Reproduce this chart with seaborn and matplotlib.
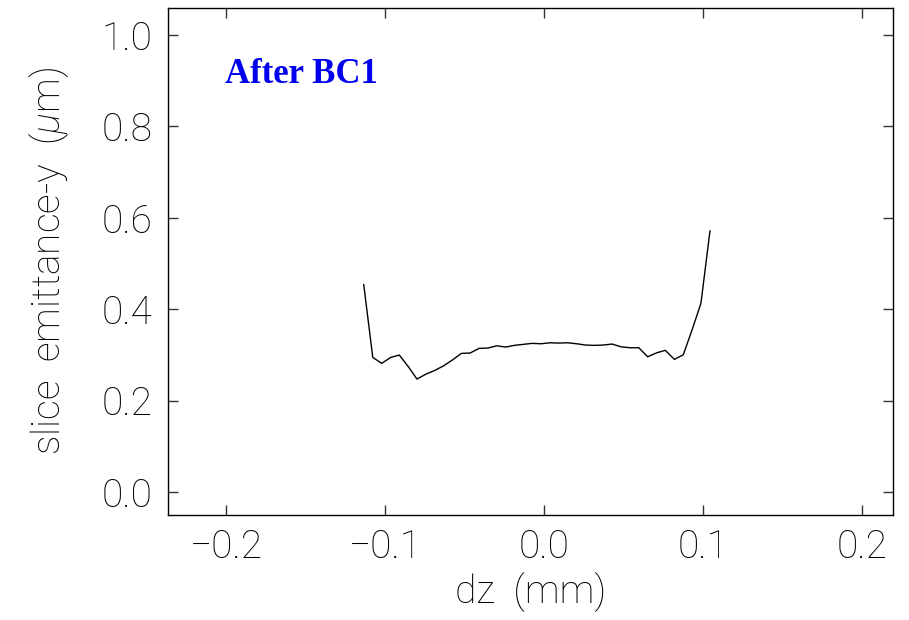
import matplotlib
matplotlib.use("Agg")
import matplotlib.pyplot as plt
import seaborn as sns
import pandas as pd

# slice vertical emittance along the bunch after the first bunch compressor
dz_mm = [-0.1134, -0.1077, -0.1021, -0.0964, -0.0910, -0.0853, -0.0799, -0.0742,
         -0.0686, -0.0631, -0.0574, -0.0520, -0.0465, -0.0409, -0.0354, -0.0297,
         -0.0241, -0.0187, -0.0130, -0.0075, -0.0019, 0.0038, 0.0092, 0.0149,
         0.0206, 0.0262, 0.0316, 0.0373, 0.0428, 0.0484, 0.0541, 0.0596,
         0.0652, 0.0709, 0.0763, 0.0820, 0.0876, 0.0933, 0.0987, 0.1044]
emit_y_um = [0.4545, 0.2947, 0.2816, 0.2947, 0.2998, 0.2742, 0.2473, 0.2582,
             0.2663, 0.2764, 0.2895, 0.3035, 0.3042, 0.3144, 0.3151, 0.3201,
             0.3173, 0.3210, 0.3232, 0.3254, 0.3245, 0.3267, 0.3260, 0.3267,
             0.3245, 0.3217, 0.3210, 0.3217, 0.3239, 0.3179, 0.3158, 0.3158,
             0.2961, 0.3048, 0.3101, 0.2904, 0.3004, 0.3567, 0.4129, 0.5718]

x_ticks = [-0.2, -0.1, 0.0, 0.1, 0.2]
x_tick_labels = ["\u22120.2", "\u22120.1", "0.0", "0.1", "0.2"]
y_ticks = [0.0, 0.2, 0.4, 0.6, 0.8, 1.0]
y_tick_labels = ["0.0", "0.2", "0.4", "0.6", "0.8", "1.0"]

df = pd.DataFrame({"dz": dz_mm, "emit": emit_y_um})

sns.set_style("ticks")
plt.rcParams["font.family"] = ["Roboto", "DejaVu Sans"]
plt.rcParams["mathtext.fontset"] = "custom"
plt.rcParams["mathtext.rm"] = "Roboto:light"
plt.rcParams["mathtext.it"] = "Roboto:italic:light"

fig = plt.figure(figsize=(9.09, 6.20), dpi=100)
ax = fig.add_axes([0.1848, 0.1694, 0.7976, 0.8177])

sns.lineplot(data=df, x="dz", y="emit", ax=ax, color="black", linewidth=1.0,
             sort=False, estimator=None)

ax.set_xlim(-0.2365, 0.2195)
ax.set_ylim(-0.050, 1.059)
ax.set_xticks(x_ticks)
ax.set_xticklabels(x_tick_labels)
ax.set_yticks(y_ticks)
ax.set_yticklabels(y_tick_labels)
ax.minorticks_off()

label_font = dict(fontsize=28, fontweight="light", color="black")
for lab in ax.get_xticklabels() + ax.get_yticklabels():
    lab.set_fontsize(28)
    lab.set_fontweight("light")
    lab.set_color("black")

ax.tick_params(axis="both", which="major", direction="in", length=7, width=1.0,
               color="#333333", top=True, right=True, pad=10)
ax.tick_params(axis="y", pad=11)

for side in ["left", "right", "top", "bottom"]:
    ax.spines[side].set_visible(True)
    ax.spines[side].set_linewidth(1.0)
    ax.spines[side].set_color("black")

ax.set_xlabel("dz  (mm)", **label_font, labelpad=4)
ax.set_ylabel(r"slice  emittance-y  ($\mu$m)", **label_font, labelpad=22)

fig.text(225 / 909, 1 - 83 / 620, "After BC1", color="#0000ee",
         fontsize=25, fontweight="bold", family=["Liberation Serif", "DejaVu Serif"],
         ha="left", va="baseline")

fig.savefig("out.png", dpi=100)
